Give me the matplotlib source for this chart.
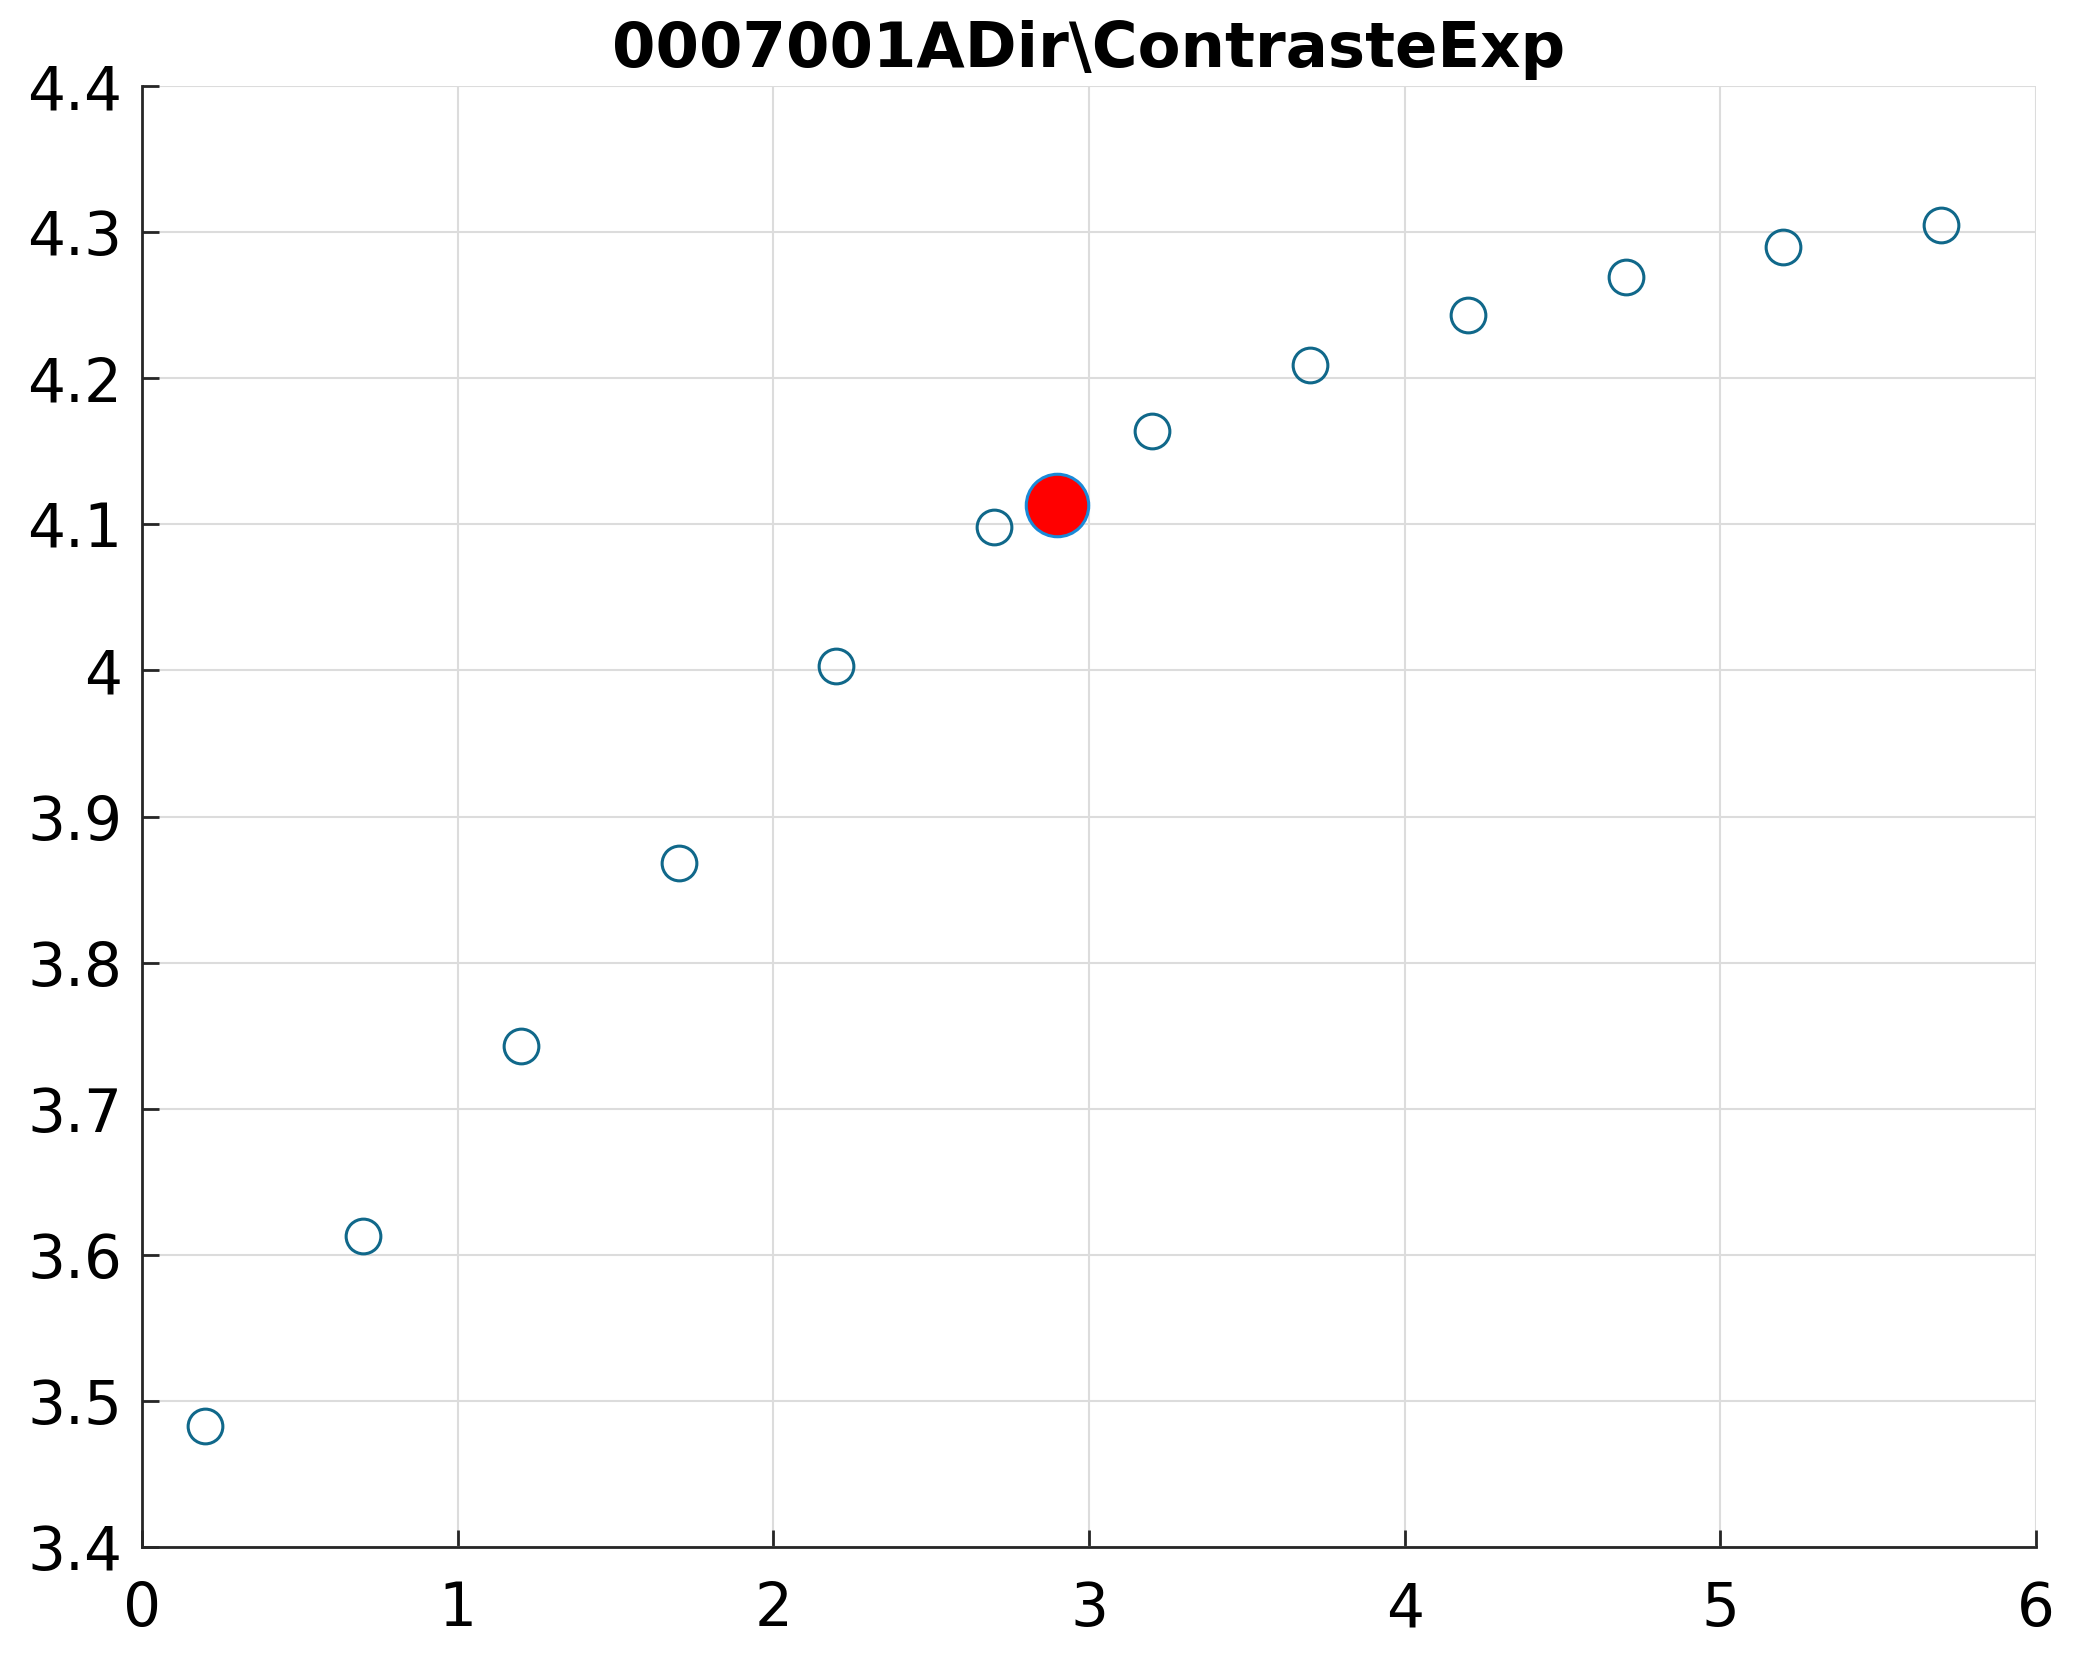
import numpy as np
import matplotlib
matplotlib.use('Agg')
import matplotlib.pyplot as plt

# measured points
xs = [0.2, 0.7, 1.2, 1.7, 2.2, 2.7, 3.2, 3.7, 4.2, 4.7, 5.2, 5.7]
ys = [3.483, 3.613, 3.743, 3.868, 4.003, 4.098, 4.164, 4.209, 4.243, 4.269, 4.290, 4.305]
# highlighted point
best_x = [2.90]
best_y = [4.113]

title = '0007001ADir\\ContrasteExp'
xticks = [0, 1, 2, 3, 4, 5, 6]
yticks = [3.4, 3.5, 3.6, 3.7, 3.8, 3.9, 4.0, 4.1, 4.2, 4.3, 4.4]
yticklabels = ['3.4', '3.5', '3.6', '3.7', '3.8', '3.9', '4', '4.1', '4.2', '4.3', '4.4']

fig = plt.figure(figsize=(20.81, 16.78), dpi=100)
ax = fig.add_axes([142 / 2081, 131 / 1678, (2036 - 142) / 2081, (1547 - 86) / 1678])

ax.plot(xs, ys, 'o', markersize=25, markerfacecolor='none',
        markeredgecolor='#10688a', markeredgewidth=2.2, linestyle='none')
ax.plot(best_x, best_y, 'o', markersize=45, markerfacecolor='red',
        markeredgecolor='#1a8ad8', markeredgewidth=2.2, linestyle='none')

ax.set_xlim(0, 6)
ax.set_ylim(3.4, 4.4)
ax.set_xticks(xticks)
ax.set_yticks(yticks)
ax.set_yticklabels(yticklabels)
ax.grid(True, color='#dcdcdc', linewidth=1.5)
ax.set_axisbelow(True)

for s in ['top', 'right']:
    ax.spines[s].set_visible(False)
for s in ['left', 'bottom']:
    ax.spines[s].set_color('#262626')
    ax.spines[s].set_linewidth(2)

ax.tick_params(direction='in', length=12, width=2, color='#262626',
               labelsize=43)
ax.tick_params(axis='x', pad=24)
ax.tick_params(axis='y', pad=14)

ax.set_title(title, fontsize=45, fontweight='bold', pad=14)

fig.savefig('out.png', dpi=100)
